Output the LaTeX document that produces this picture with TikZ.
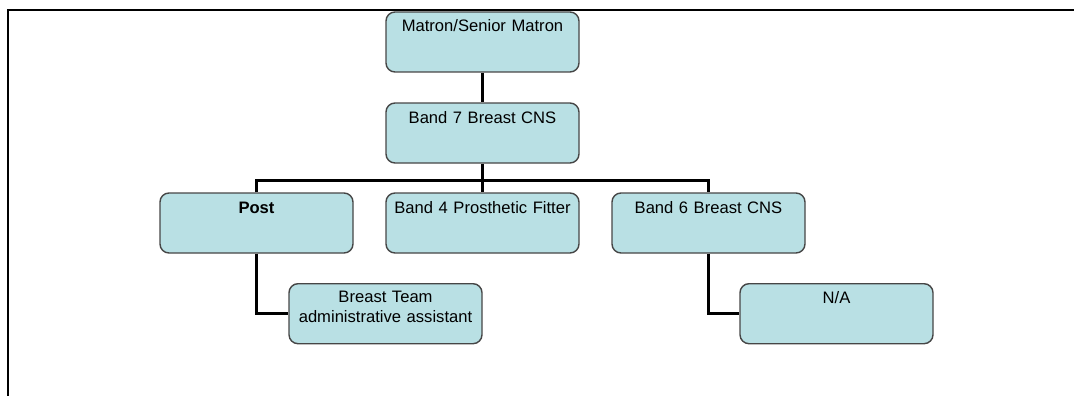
\documentclass[tikz,border=0pt]{standalone}
\usepackage{fontspec}
\setmainfont{Liberation Sans}
\usetikzlibrary{positioning}

\definecolor{boxfill}{RGB}{185,224,228}
\definecolor{boxline}{RGB}{70,70,70}

\tikzset{
	role/.style={draw=boxline, line width=1.4pt, fill=boxfill, rounded corners=9pt,
		inner sep=0pt, text width=193pt, align=center, minimum height=60pt,
		text height=20pt, text depth=40pt,
		font=\fontsize{16.6}{19.5}\selectfont},
	link/.style={line width=3.5pt, black}
}

\begin{document}
\begin{tikzpicture}[x=1pt, y=1pt, node distance=31.6pt]
	\useasboundingbox (0,0) rectangle (1074,-396);
	% frame
	\draw [line width=1.3pt] (1074,-10) -- (8,-10) -- (8,-396);

	% Nodes
	\node [role] 								(matron) at (482.5,-42)			{Matron/Senior Matron};
	\node [role] 								(band7)  [below=29.6pt of matron]	{Band 7 Breast CNS};
	\node [role] 								(band4)  [below=28.6pt of band7]	{Band 4 Prosthetic Fitter};
	\node [role] 								(post)   [left=of band4]		{\textbf{Post}};
	\node [role] 								(band6)  [right=of band4]		{Band 6 Breast CNS};
	\node [role, text height=19pt, text depth=41pt]	(team)   [below=29.3pt of post.south, xshift=129pt]	{Breast Team\\administrative assistant};
	\node [role] 								(na)     [below=29.3pt of band6.south, xshift=128pt]	{N/A};

	% Paths
	\draw [link] (matron) -- (band7);
	\draw [link] (band7) -- (band4);
	\draw [link] (post.north) -- ++(0,12pt) -| (band6.north);
	\draw [link] (post.south) |- (team.west);
	\draw [link] (band6.south) |- (na.west);
\end{tikzpicture}
\end{document}
